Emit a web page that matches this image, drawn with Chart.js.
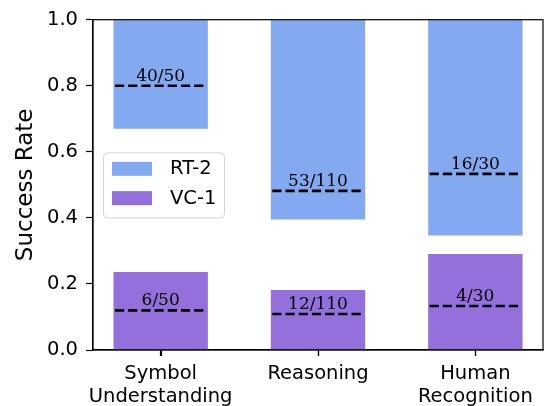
<!DOCTYPE html>
<html>
<head>
<meta charset="utf-8">
<script src="https://cdn.jsdelivr.net/npm/chart.js@4.4.0/dist/chart.umd.min.js"></script>
<style>
  html, body { margin: 0; padding: 0; background: #fff; }
</style>
</head>
<body>
<canvas id="success-chart" width="545" height="406"></canvas>
<script>
// Success rate per task family, RT-2 vs VC-1

var categories = [["Symbol", "Understanding"], "Reasoning", ["Human", "Recognition"]];
var rt2Low = [0.67, 0.395, 0.347];   // RT-2 bars hang down from rt2High
var rt2High = [1.0, 1.0, 1.0];
var vc1Rate = [0.236, 0.182, 0.291];
var rt2Hits = [40, 53, 16];
var rt2Trials = [50, 110, 30];
var vc1Hits = [6, 12, 4];
var vc1Trials = [50, 110, 30];
var yTicks = [0, 0.2, 0.4, 0.6, 0.8, 1.0];

var blue = 'rgb(131, 170, 240)';
var purple = 'rgb(147, 112, 219)';

Chart.defaults.color = '#000';
Chart.defaults.font.family = 'DejaVu Sans';

// dashed count lines with "hits/trials" above them
var countLines = {
  id: 'countLines',
  afterDatasetsDraw: function(chart) {
    var ctx = chart.ctx, y = chart.scales.y, x = chart.scales.x;
    var groups = [[0, rt2Hits, rt2Trials], [1, vc1Hits, vc1Trials]];
    groups.forEach(function(g) {
      chart.getDatasetMeta(g[0]).data.forEach(function(bar, i) {
        var py = y.getPixelForValue(g[1][i] / g[2][i]);
        var half = bar.width / 2 - 1.5;
        ctx.save();
        ctx.strokeStyle = '#000';
        ctx.lineWidth = 2.6;
        ctx.setLineDash([9.2, 4]);
        ctx.beginPath();
        ctx.moveTo(bar.x - half, py);
        ctx.lineTo(bar.x + half, py);
        ctx.stroke();
        ctx.setLineDash([]);
        ctx.fillStyle = '#000';
        ctx.font = '17px "DejaVu Serif"';
        ctx.textAlign = 'center';
        ctx.textBaseline = 'alphabetic';
        ctx.fillText(g[1][i] + '/' + g[2][i], bar.x, py - 5);
        ctx.restore();
      });
    });
    // full box round the plot, plus the category tick marks
    var a = chart.chartArea;
    ctx.save();
    ctx.strokeStyle = '#000';
    ctx.lineWidth = 1.2;
    ctx.strokeRect(a.left, a.top, a.right - a.left, a.bottom - a.top);
    ctx.beginPath();
    x.ticks.forEach(function(t, i) {
      var px = Math.round(x.getPixelForTick(i)) + 0.5;
      ctx.moveTo(px, a.bottom);
      ctx.lineTo(px, a.bottom + 6);
    });
    ctx.stroke();
    ctx.restore();
  }
};

// legend in a rounded box, centre left inside the plot
var boxLegend = {
  id: 'boxLegend',
  afterDraw: function(chart) {
    var ctx = chart.ctx, a = chart.chartArea;
    var w = 121, h = 65;
    var left = a.left + 10, top = (a.top + a.bottom) / 2 - h / 2;
    ctx.save();
    ctx.fillStyle = 'rgba(255,255,255,0.8)';
    ctx.strokeStyle = '#d6d6d6';
    ctx.lineWidth = 1;
    ctx.beginPath();
    ctx.roundRect(left + 0.5, top + 0.5, w, h, 4);
    ctx.fill();
    ctx.stroke();
    ctx.font = '19.5px "DejaVu Sans"';
    ctx.textBaseline = 'middle';
    ctx.textAlign = 'left';
    chart.data.datasets.forEach(function(ds, i) {
      var sy = top + 9.5 + i * 29.3;
      ctx.fillStyle = ds.backgroundColor;
      ctx.fillRect(left + 9, sy, 40, 14);
      ctx.fillStyle = '#000';
      ctx.fillText(ds.label, left + 67, sy + 7.5);
    });
    ctx.restore();
  }
};

var ctx = document.getElementById('success-chart').getContext('2d');
var chart = new Chart(ctx, {
  type: 'bar',
  data: {
    datasets: [{
      label: 'RT-2',
      backgroundColor: blue,
      data: rt2Low.map(function(v, i) { return {x: i, y: [v, rt2High[i]]}; }),
      grouped: false,
      categoryPercentage: 1.0,
      barPercentage: 0.6
    },
    {
      label: 'VC-1',
      backgroundColor: purple,
      data: vc1Rate.map(function(v, i) { return {x: i, y: v}; }),
      grouped: false,
      categoryPercentage: 1.0,
      barPercentage: 0.6
    }]
  },
  plugins: [countLines, boxLegend],
  options: {
    responsive: false,
    animation: false,
    layout: { padding: { top: 14, right: 2, left: 0, bottom: 0 } },
    plugins: {
      legend: { display: false },
      tooltip: { enabled: false }
    },
    scales: {
      x: {
        type: 'linear',
        offset: false,
        min: -0.43,
        max: 2.43,
        afterBuildTicks: function(s) {
          s.ticks = categories.map(function(c, i) { return {value: i}; });
        },
        afterFit: function(s) { s.height = 56; },
        ticks: {
          callback: function(v) { return categories[v]; },
          font: { size: 19.5 },
          padding: 6,
          maxRotation: 0,
          autoSkip: false
        },
        grid: { offset: false, drawOnChartArea: false, tickLength: 6, color: '#000', tickWidth: 1.2 },
        border: { color: '#000', width: 1.2 }
      },
      y: {
        min: 0,
        max: 1,
        afterBuildTicks: function(s) {
          s.ticks = yTicks.map(function(v) { return {value: v}; });
        },
        afterFit: function(s) { s.width = 93; },
        ticks: {
          callback: function(v) { return v.toFixed(1); },
          font: { size: 19.5 },
          padding: 8
        },
        grid: { drawOnChartArea: false, tickLength: 7, color: '#000', tickWidth: 1.2 },
        border: { color: '#000', width: 1.2 },
        title: {
          display: true,
          text: 'Success Rate',
          font: { size: 23 },
          padding: { top: 12, bottom: 0 }
        }
      }
    }
  }
});
</script>
</body>
</html>
